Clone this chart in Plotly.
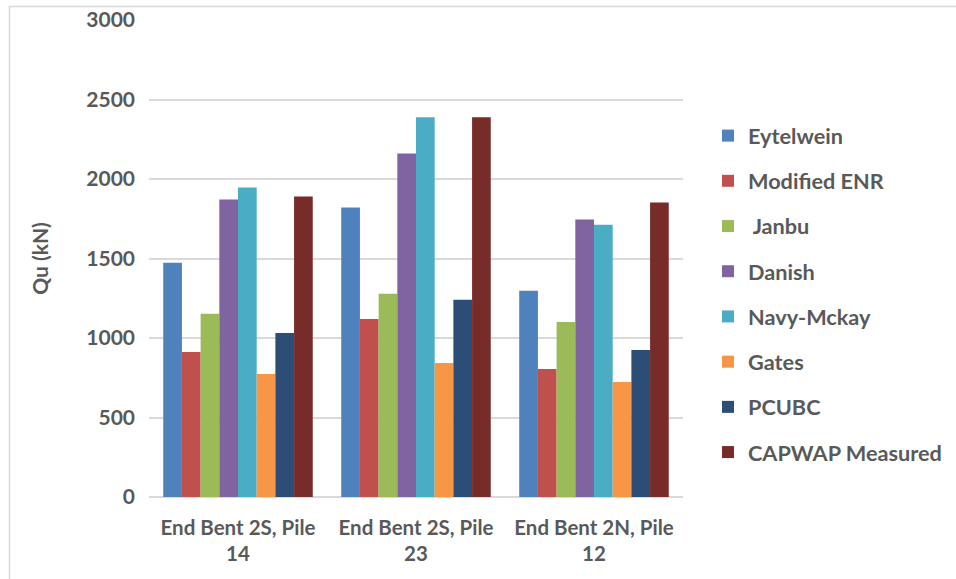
import plotly.graph_objects as go

# Pile load test locations
categories = ["End Bent 2S, Pile<br>14", "End Bent 2S, Pile<br>23", "End Bent 2N, Pile<br>12"]

# Ultimate capacity Qu (kN) by method
eytelwein = [1473, 1820, 1297]
modified_enr = [912, 1120, 805]
janbu = [1152, 1278, 1101]
danish = [1871, 2161, 1745]
navy_mckay = [1946, 2388, 1713]
gates = [774, 843, 723]
pcubc = [1032, 1240, 925]
capwap = [1890, 2388, 1852]

series_names = ["Eytelwein", "Modified ENR", " Janbu", "Danish", "Navy-Mckay",
                "Gates", "PCUBC", "CAPWAP Measured"]
series_values = [eytelwein, modified_enr, janbu, danish, navy_mckay, gates, pcubc, capwap]
series_colors = ["#4F81BD", "#C0504D", "#9BBB59", "#8064A2", "#4BACC6",
                 "#F79646", "#2C4D75", "#772C2A"]

y_ticks = [0, 500, 1000, 1500, 2000, 2500, 3000]

text_color = "#595959"
font_family = "Lato, 'Open Sans', sans-serif"

fig = go.Figure()
for name, vals, col in zip(series_names, series_values, series_colors):
    fig.add_trace(go.Bar(
        x=categories, y=vals, name=name, legendgroup=name,
        marker=dict(color=col, line=dict(width=0)),
    ))

W, H = 956, 579
L, R, T, B = 149, 273, 20, 82
pw, ph = W - L - R, H - T - B

def px_x(x):
    return (x - L) / pw

def px_y(y):
    return (H - B - y) / ph

fig.update_layout(
    width=W, height=H,
    margin=dict(l=L, r=R, t=T, b=B, pad=0, autoexpand=False),
    paper_bgcolor="white", plot_bgcolor="white",
    barmode="group", bargap=0.16, bargroupgap=0,
    font=dict(family=font_family, size=20, color=text_color),
    showlegend=True,
    legend=dict(
        x=px_x(708), y=px_y(115), xanchor="left", yanchor="top",
        font=dict(family=font_family, size=21.7, color=text_color, weight="bold"),
        tracegroupgap=14, itemwidth=30, bgcolor="rgba(0,0,0,0)",
    ),
    xaxis=dict(
        showgrid=False, showline=False, ticks="", ticklabelstandoff=16,
        automargin=False,
        tickfont=dict(family=font_family, size=20.5, color=text_color, weight="bold"),
    ),
    yaxis=dict(
        range=[0, 3000], tickvals=y_ticks, showgrid=True,
        gridcolor="#D9D9D9", gridwidth=1.5,
        zeroline=True, zerolinecolor="#D9D9D9", zerolinewidth=1.5,
        showline=False, ticks="", ticklabelstandoff=13, automargin=False,
        tickfont=dict(family=font_family, size=21, color=text_color, weight="bold"),
        title=dict(text="Qu (kN)", standoff=31,
                   font=dict(family=font_family, size=21, color=text_color, weight="bold")),
    ),
)

# Chart frame (top and left edges)
fig.add_shape(type="line", xref="paper", yref="paper",
              x0=px_x(9), x1=px_x(960), y0=px_y(6.5), y1=px_y(6.5),
              line=dict(color="#D9D9D9", width=1.5))
fig.add_shape(type="line", xref="paper", yref="paper",
              x0=px_x(9.5), x1=px_x(9.5), y0=px_y(6), y1=px_y(585),
              line=dict(color="#D9D9D9", width=1.5))

fig.write_html("out.html")
